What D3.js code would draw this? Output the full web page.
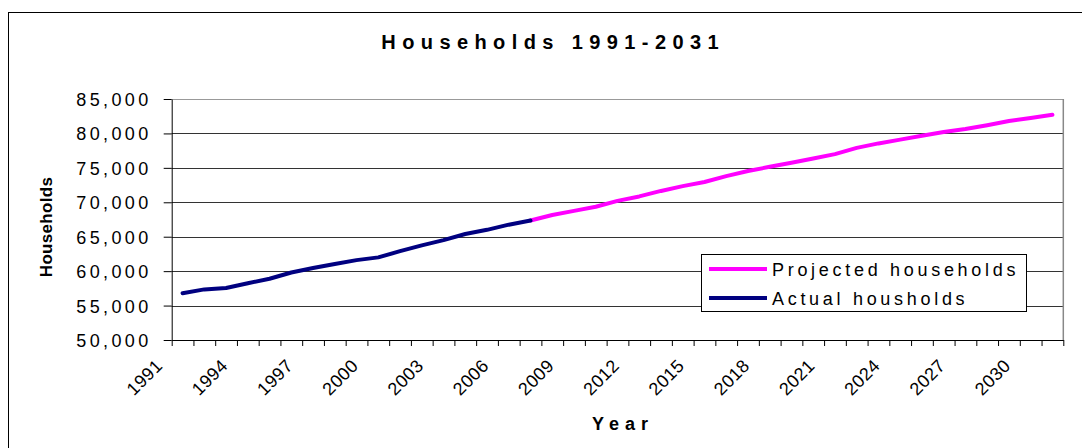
<!DOCTYPE html>
<html>
<head>
<meta charset="utf-8">
<script src="https://cdn.jsdelivr.net/npm/d3@7"></script>
<style>
  body { margin: 0; background: #fff; }
  text { font-family: "Liberation Sans", Arial, sans-serif; fill: #000; }
</style>
</head>
<body>
<svg id="chart" width="1082" height="448"></svg>
<script>
// years on the category axis
const years = d3.range(1991, 2032);
// actual households 1991-2007
const actualYears = d3.range(1991, 2008);
const actualValues = [56800, 57350, 57550, 58250, 58900, 59800, 60450, 61050, 61600,
  62000, 62900, 63750, 64500, 65400, 66000, 66750, 67350];
// projected households 2007-2031
const projectedYears = d3.range(2007, 2032);
const projectedValues = [67350, 68150, 68750, 69350, 70200, 70850, 71650, 72350, 72950,
  73800, 74550, 75150, 75750, 76350, 77000, 77900, 78550, 79100, 79650, 80200,
  80650, 81200, 81800, 82250, 82700];
const yTicks = d3.range(50000, 85001, 5000);
const xLabelYears = years.filter((d, i) => i % 3 === 0);

const svg = d3.select('#chart');
const plot = { left: 171.7, right: 1063.3, top: 99, bottom: 340 };

// outer chart frame
svg.append('rect')
  .attr('x', 8.5).attr('y', 12.5)
  .attr('width', 1100).attr('height', 500)
  .attr('fill', '#fff').attr('stroke', '#000').attr('stroke-width', 1);

const x = d3.scaleBand().domain(years).range([plot.left, plot.right]).paddingInner(0).paddingOuter(0);
const xc = d => x(d) + x.bandwidth() / 2;
const xTickScale = d3.scaleLinear().domain([0, years.length]).range([plot.left, plot.right]);
const y = d3.scaleLinear().domain([50000, 85000]).range([plot.bottom, plot.top]);

// gridlines
svg.append('g')
  .selectAll('line')
  .data(yTicks.slice(1))
  .enter()
  .append('line')
  .attr('x1', plot.left).attr('x2', plot.right)
  .attr('y1', d => Math.round(y(d)) + 0.5)
  .attr('y2', d => Math.round(y(d)) + 0.5)
  .attr('stroke', d => (d === 85000 ? '#999' : '#333'))
  .attr('stroke-width', 1);

// right edge of plot area
svg.append('line')
  .attr('x1', plot.right).attr('x2', plot.right)
  .attr('y1', plot.top).attr('y2', plot.bottom)
  .attr('stroke', '#888').attr('stroke-width', 1.5);

// y axis
const yAxis = svg.append('g')
  .attr('transform', `translate(${plot.left},0)`)
  .call(d3.axisLeft(y).tickValues(yTicks).tickSize(8).tickSizeOuter(0)
    .tickFormat(d3.format(',')));
yAxis.select('.domain').attr('stroke', '#000');
yAxis.selectAll('.tick line').attr('stroke', '#000');
yAxis.selectAll('.tick text')
  .attr('x', -20)
  .attr('dy', '0.36em')
  .style('font-size', '18px')
  .style('letter-spacing', '3.4px')
  .style('font-family', '"Liberation Sans", Arial, sans-serif');

// x axis: tick marks between categories
const xAxis = svg.append('g')
  .attr('transform', `translate(0,${plot.bottom})`)
  .call(d3.axisBottom(xTickScale).tickValues(d3.range(0, years.length + 1))
    .tickSize(6).tickSizeOuter(0).tickFormat(''));
xAxis.select('.domain').attr('stroke', '#000');
xAxis.selectAll('.tick line').attr('stroke', '#000');

// x category labels
svg.append('g')
  .selectAll('text')
  .data(xLabelYears)
  .enter()
  .append('text')
  .attr('transform', d => `translate(${xc(d) - 19},367) rotate(-45)`)
  .attr('text-anchor', 'end')
  .style('font-size', '18px')
  .style('letter-spacing', '0.4px')
  .text(d => d);

// lines
const line = d3.line().x(d => xc(d[0])).y(d => y(d[1]));
svg.append('path')
  .datum(projectedYears.map((d, i) => [d, projectedValues[i]]))
  .attr('d', line)
  .attr('fill', 'none')
  .attr('stroke', '#ff00ff')
  .attr('stroke-width', 4)
  .attr('stroke-linecap', 'round')
  .attr('stroke-linejoin', 'round');
svg.append('path')
  .datum(actualYears.map((d, i) => [d, actualValues[i]]))
  .attr('d', line)
  .attr('fill', 'none')
  .attr('stroke', '#000080')
  .attr('stroke-width', 4)
  .attr('stroke-linecap', 'round')
  .attr('stroke-linejoin', 'round');

// title
svg.append('text')
  .attr('x', 550 + 3.2).attr('y', 49)
  .attr('text-anchor', 'middle')
  .style('font-size', '20px')
  .style('font-weight', 'bold')
  .style('letter-spacing', '6.4px')
  .text('Households 1991-2031');

// axis titles
svg.append('text')
  .attr('x', 620 + 3).attr('y', 430)
  .attr('text-anchor', 'middle')
  .style('font-size', '18px')
  .style('font-weight', 'bold')
  .style('letter-spacing', '6px')
  .text('Year');

svg.append('text')
  .attr('transform', 'translate(52,227) rotate(-90)')
  .attr('text-anchor', 'middle')
  .style('font-size', '17px')
  .style('font-weight', 'bold')
  .style('letter-spacing', '0.3px')
  .text('Households');

// legend
const legend = svg.append('g').attr('transform', 'translate(701,254)');
legend.append('rect')
  .attr('x', 0.5).attr('y', 0.5)
  .attr('width', 325).attr('height', 57)
  .attr('fill', '#fff').attr('stroke', '#000');
const legendItems = [
  { name: 'Projected households', color: '#ff00ff' },
  { name: 'Actual housholds', color: '#000080' },
];
const item = legend.selectAll('.item')
  .data(legendItems)
  .enter()
  .append('g')
  .attr('class', 'item')
  .attr('transform', (d, i) => `translate(0,${15 + i * 29})`);
item.append('line')
  .attr('x1', 8).attr('x2', 66)
  .attr('stroke', d => d.color)
  .attr('stroke-width', 4);
item.append('text')
  .attr('x', 71)
  .attr('y', 6.5)
  .style('font-size', '18px')
  .style('letter-spacing', '3.7px')
  .text(d => d.name);
</script>
</body>
</html>
